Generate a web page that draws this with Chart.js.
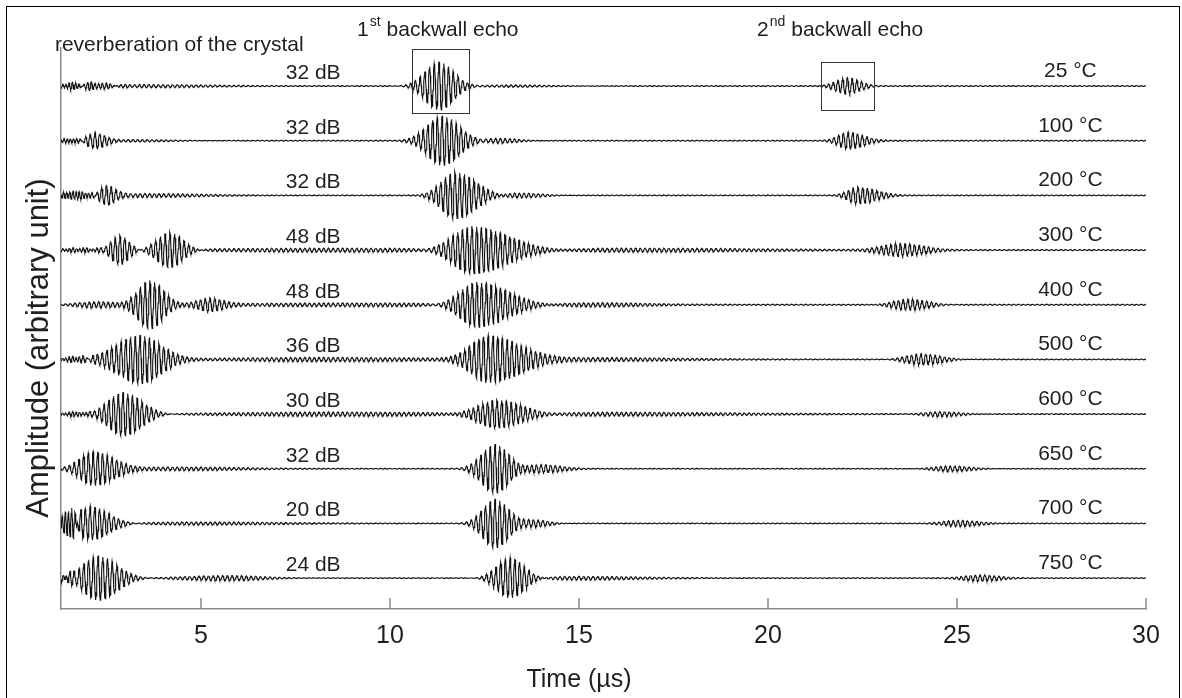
<!DOCTYPE html>
<html>
<head>
<meta charset="utf-8">
<title>Ultrasonic A-scans vs temperature</title>
<script src="https://cdn.jsdelivr.net/npm/chart.js@4/dist/chart.umd.min.js"></script>
<style>
  html, body { margin: 0; padding: 0; background: #fff; }
  #wrap { width: 1182px; height: 698px; }
</style>
</head>
<body>
<div id="wrap"><canvas id="ascan" width="1182" height="698"></canvas></div>
<script>
// A-scans recorded at each furnace temperature, stacked one per row
const temps = ['25 °C', '100 °C', '200 °C', '300 °C', '400 °C', '500 °C', '600 °C', '650 °C', '700 °C', '750 °C'];
const gains = ['32 dB', '32 dB', '32 dB', '48 dB', '48 dB', '36 dB', '30 dB', '32 dB', '20 dB', '24 dB'];
const xTicks = [5, 10, 15, 20, 25, 30];

// wave packets: [centre µs, peak amplitude, rise sigma µs, fall sigma µs, MHz (default carrier)]
const startPackets = [
  [[1.6, 0.05, 0.3, 0.3, 12], [2.1, 0.06, 0.3, 0.45, 10], [3.5, 0.02, 0.8, 1.5]],
  [[1.55, 0.04, 0.3, 0.3, 12], [2.2, 0.15, 0.2, 0.26], [3.2, 0.025, 0.6, 1.2]],
  [[1.7, 0.07, 0.4, 0.35, 12], [2.5, 0.17, 0.17, 0.24], [3.4, 0.03, 0.6, 1.5]],
  [[1.8, 0.035, 0.5, 0.5, 11], [2.86, 0.26, 0.23, 0.23], [4.18, 0.34, 0.35, 0.35], [8.5, 0.025, 3, 3]],
  [[2.3, 0.065, 0.6, 0.5], [3.65, 0.44, 0.32, 0.35], [5.24, 0.11, 0.32, 0.34], [9, 0.022, 3, 3]],
  [[1.7, 0.05, 0.3, 0.3, 11], [3.39, 0.44, 0.62, 0.55], [8, 0.03, 2, 3]],
  [[1.7, 0.04, 0.3, 0.3, 11], [2.94, 0.41, 0.4, 0.5], [8.5, 0.03, 2.5, 3]],
  [[2.15, 0.31, 0.35, 0.55], [4.5, 0.025, 1.2, 1.5]],
  [[1.5, 0.25, 0.15, 0.2, 12], [2.07, 0.32, 0.28, 0.5], [5, 0.02, 1.5, 2]],
  [[1.45, 0.07, 0.2, 0.2, 11], [2.28, 0.41, 0.4, 0.5], [5.7, 0.05, 1.2, 1.0]]
];
const firstEcho = [
  [11.30, 0.45, 0.37, 0.38], [11.38, 0.45, 0.39, 0.45], [11.72, 0.43, 0.36, 0.54],
  [12.17, 0.45, 0.52, 0.95], [12.30, 0.43, 0.46, 0.82], [12.60, 0.43, 0.46, 0.85],
  [12.83, 0.27, 0.52, 0.68], [12.78, 0.45, 0.35, 0.36], [12.78, 0.45, 0.32, 0.35],
  [13.18, 0.38, 0.35, 0.38]
];
const echoTail = [
  [13.2, 0.025, 0.8, 1.2], [12.8, 0.05, 0.4, 0.6], [13.3, 0.05, 0.4, 0.7],
  [16.5, 0.025, 1.5, 3], [15.5, 0.025, 1.0, 1.2], [15.5, 0.025, 1.2, 2],
  [16.0, 0.025, 1.5, 3], [14.0, 0.07, 0.4, 0.5], [13.8, 0.07, 0.3, 0.4],
  [15.0, 0.025, 1.0, 1.5]
];
const secondEcho = [
  [22.10, 0.15, 0.29, 0.32], [22.12, 0.15, 0.25, 0.4], [22.38, 0.15, 0.25, 0.46],
  [23.50, 0.11, 0.46, 0.57], [23.70, 0.11, 0.4, 0.52], [24.05, 0.11, 0.4, 0.52],
  [24.55, 0.05, 0.46, 0.57], [24.82, 0.055, 0.46, 0.57], [25.03, 0.055, 0.4, 0.52],
  [25.61, 0.055, 0.4, 0.46]
];
const noiseFloor = [0.007, 0.007, 0.007, 0.009, 0.009, 0.007, 0.007, 0.006, 0.006, 0.006];

// boxes around the two reference echoes: [t0, t1, yLow, yHigh]
const echoBoxes = [[10.59, 12.09, -0.494, 0.677], [21.41, 22.81, -0.439, 0.439]];

const X_MIN = 1.3, X_MAX = 30, STEP = 0.01, CARRIER = 8;
const Y_MIN = -9.566, Y_MAX = 0.695;
const GAIN_AT = 7.97, TEMP_AT = 28.0;
const FONT = '"Liberation Sans", Arial, Helvetica, sans-serif';
const INK = '#1f1f1f', AXIS = '#8a8a8a';

function buildTrace(i) {
  const packets = [...startPackets[i], firstEcho[i], echoTail[i], secondEcho[i]];
  const pts = [];
  const n = Math.round((X_MAX - X_MIN) / STEP);
  for (let k = 0; k <= n; k++) {
    const t = X_MIN + k * STEP;
    let v = noiseFloor[i] * Math.cos(2 * Math.PI * CARRIER * t);
    for (const [c, a, sl, sr, f = CARRIER] of packets) {
      const u = (t - c) / (t < c ? sl : sr);
      if (u * u > 40) continue;
      v += a * Math.exp(-0.5 * u * u) * Math.cos(2 * Math.PI * f * (t - c));
    }
    pts.push({ x: t, y: v - i });
  }
  return pts;
}

const datasets = temps.map((label, i) => ({
  label,
  data: buildTrace(i),
  borderColor: '#111',
  borderWidth: 1.1,
  pointRadius: 0,
  tension: 0,
  fill: false
}));

function textWithSup(ctx, x, yBase, main, sup, rest) {
  ctx.textAlign = 'left';
  ctx.font = '21px ' + FONT;
  ctx.fillText(main, x, yBase);
  let cx = x + ctx.measureText(main).width + 1;
  ctx.font = '14px ' + FONT;
  ctx.fillText(sup, cx, yBase - 10);
  cx += ctx.measureText(sup).width + 6;
  ctx.font = '21px ' + FONT;
  ctx.fillText(rest, cx, yBase);
}

const overlay = {
  id: 'overlay',
  afterDraw(chart) {
    const { ctx, scales: { x, y } } = chart;
    ctx.save();
    // outer figure frame
    ctx.strokeStyle = '#000';
    ctx.lineWidth = 1;
    ctx.strokeRect(6.5, 6.5, 1173, 760);

    // inward ticks on the time axis
    ctx.strokeStyle = AXIS;
    ctx.lineWidth = 1.5;
    ctx.beginPath();
    xTicks.forEach(v => {
      const px = Math.round(x.getPixelForValue(v));
      ctx.moveTo(px, y.bottom);
      ctx.lineTo(px, y.bottom - 11);
    });
    ctx.stroke();

    // echo boxes
    ctx.strokeStyle = '#333';
    ctx.lineWidth = 1;
    echoBoxes.forEach(([t0, t1, lo, hi]) => {
      const x0 = Math.round(x.getPixelForValue(t0)) + 0.5;
      const x1 = Math.round(x.getPixelForValue(t1)) + 0.5;
      const y0 = Math.round(y.getPixelForValue(hi)) + 0.5;
      const y1 = Math.round(y.getPixelForValue(lo)) + 0.5;
      ctx.strokeRect(x0, y0, x1 - x0, y1 - y0);
    });

    // gain and temperature labels over each trace
    ctx.fillStyle = INK;
    ctx.font = '21px ' + FONT;
    ctx.textAlign = 'center';
    ctx.textBaseline = 'alphabetic';
    temps.forEach((tLabel, i) => {
      const base = y.getPixelForValue(-i);
      ctx.fillText(gains[i], x.getPixelForValue(GAIN_AT), base - 7);
      ctx.fillText(tLabel, x.getPixelForValue(TEMP_AT), base - 9);
    });

    // annotations along the top
    ctx.textAlign = 'left';
    ctx.fillText('reverberation of the crystal', x.getPixelForValue(1.14), 51);
    textWithSup(ctx, x.getPixelForValue(9.13), 36, '1', 'st', 'backwall echo');
    textWithSup(ctx, x.getPixelForValue(19.71), 36, '2', 'nd', 'backwall echo');

    // axis titles
    ctx.textAlign = 'center';
    ctx.font = '25px ' + FONT;
    ctx.fillText('Time (µs)', 579, 687);
    ctx.translate(48, 348);
    ctx.rotate(-Math.PI / 2);
    ctx.font = '31px ' + FONT;
    ctx.fillText('Amplitude (arbitrary unit)', 0, 0);
    ctx.restore();
  }
};

new Chart(document.getElementById('ascan'), {
  type: 'line',
  data: { datasets },
  options: {
    responsive: false,
    animation: false,
    parsing: false,
    normalized: true,
    events: [],
    layout: { padding: { left: 6, right: 36, top: 48, bottom: 0 } },
    plugins: { legend: { display: false }, tooltip: { enabled: false } },
    scales: {
      x: {
        type: 'linear',
        min: X_MIN,
        max: X_MAX,
        afterBuildTicks: scale => { scale.ticks = xTicks.map(value => ({ value })); },
        afterFit: scale => { scale.height = 89; },
        grid: { display: false, drawTicks: false },
        border: { display: true, color: AXIS, width: 1.5 },
        ticks: { color: INK, font: { size: 25, family: FONT }, padding: 12, maxRotation: 0 }
      },
      y: {
        type: 'linear',
        min: Y_MIN,
        max: Y_MAX,
        afterFit: scale => { scale.width = 55; },
        grid: { display: false, drawTicks: false },
        border: { display: true, color: AXIS, width: 1.5 },
        ticks: { display: false }
      }
    }
  },
  plugins: [overlay]
});
</script>
</body>
</html>
